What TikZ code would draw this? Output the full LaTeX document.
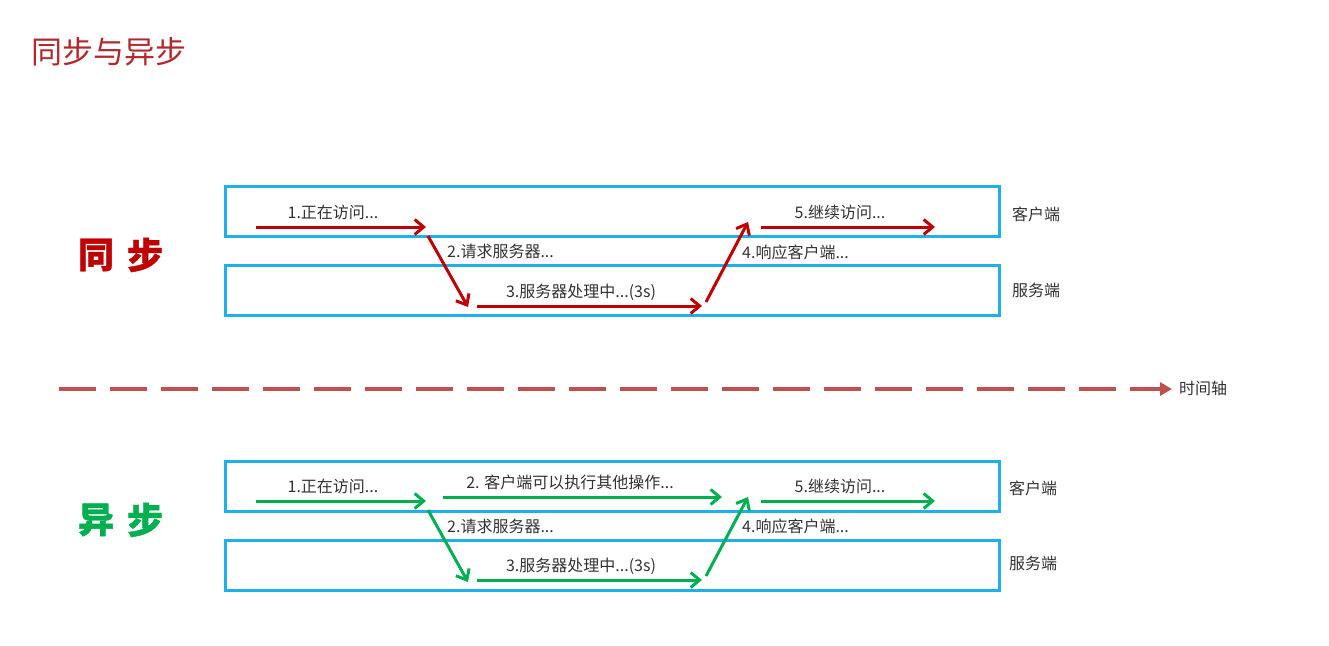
\documentclass[tikz,border=0pt]{standalone}
\usepackage{fontspec}
\setmainfont{Noto Sans CJK SC}
\newfontfamily\cjkbold{Noto Sans CJK SC Black}[FakeBold=1]
\usetikzlibrary{arrows.meta}
\definecolor{titlered}{RGB}{178,40,45}
\definecolor{boxblue}{RGB}{30,176,232}
\definecolor{arrred}{RGB}{192,0,0}
\definecolor{arrgreen}{RGB}{0,176,80}
\definecolor{axisred}{RGB}{192,80,77}
\definecolor{txt}{RGB}{50,50,50}
\tikzset{
  lane/.style={draw=boxblue, line width=3pt, minimum width=774pt, minimum height=50pt, inner sep=0pt, anchor=north west},
  lbl/.style={text=txt, font=\fontsize{16}{16}\selectfont, inner sep=0pt},
  flow/.style={line width=3pt, -{Straight Barb[length=9pt,width=15pt,line width=3pt]}},
  redflow/.style={flow, draw=arrred},
  greenflow/.style={flow, draw=arrgreen},
}
\begin{document}
\begin{tikzpicture}[x=1pt,y=-1pt]
\useasboundingbox (0,0) rectangle (1329,645);
% title
\node[anchor=west, text=titlered, font=\fontsize{31}{31}\selectfont, inner sep=0pt] (title) at (31,52) {同步与异步};
% big side labels
\node[text=arrred, font=\cjkbold\fontsize{36}{36}\selectfont, inner sep=0pt] (tong) at (96,255) {同};
\node[text=arrred, font=\cjkbold\fontsize{36}{36}\selectfont, inner sep=0pt] (bu1) at (145,255) {步};
\node[text=arrgreen, font=\cjkbold\fontsize{36}{36}\selectfont, inner sep=0pt] (yi) at (96,520) {异};
\node[text=arrgreen, font=\cjkbold\fontsize{36}{36}\selectfont, inner sep=0pt] (bu2) at (145,520) {步};

% ===== synchronous =====
\node[lane] (sc) at (224,185) {};
\node[lane] (ss) at (224,264) {};
\node[lbl, anchor=west] (scl) at (1012,214) {客户端};
\node[lbl, anchor=west] (ssl) at (1012,290) {服务端};
\coordinate (a1) at (256,227); \coordinate (a1e) at (426,227);
\coordinate (a2) at (428,236); \coordinate (a2e) at (468,307);
\coordinate (a3) at (477,306); \coordinate (a3e) at (702,306);
\coordinate (a4) at (706,302); \coordinate (a4e) at (748,222);
\coordinate (a5) at (761,227); \coordinate (a5e) at (935,227);
\draw[redflow] (a1) -- (a1e);
\draw[redflow] (a2) -- (a2e);
\draw[redflow] (a3) -- (a3e);
\draw[redflow] (a4) -- (a4e);
\draw[redflow] (a5) -- (a5e);
\node[lbl] (t1) at (333,212) {1.正在访问...};
\node[lbl, anchor=west] (t2) at (447,251) {2.请求服务器...};
\node[lbl] (t3) at (581,292) {3.服务器处理中...(3s)};
\node[lbl, anchor=west] (t4) at (742,252) {4.响应客户端...};
\node[lbl] (t5) at (840,212) {5.继续访问...};

% ===== time axis =====
\node[lbl, anchor=west] (axl) at (1179,388) {时间轴};
\coordinate (ax0) at (59,389);
\coordinate (ax1) at (1172,389);
\draw[draw=axisred, line width=4pt, dash pattern=on 37pt off 14pt, -{Triangle[length=12pt,width=13pt]}] (ax0) -- (ax1);

% ===== asynchronous =====
\node[lane] (ac) at (224,460) {};
\node[lane] (as) at (224,539) {};
\node[lbl, anchor=west] (acl) at (1009,488) {客户端};
\node[lbl, anchor=west] (asl) at (1009,563) {服务端};
\coordinate (b1) at (256,501); \coordinate (b1e) at (426,501);
\coordinate (b6) at (443,497); \coordinate (b6e) at (722,497);
\coordinate (b2) at (428,510); \coordinate (b2e) at (468,582);
\coordinate (b3) at (477,580); \coordinate (b3e) at (702,580);
\coordinate (b4) at (706,576); \coordinate (b4e) at (748,497);
\coordinate (b5) at (761,501); \coordinate (b5e) at (935,501);
\draw[greenflow] (b1) -- (b1e);
\draw[greenflow] (b6) -- (b6e);
\draw[greenflow] (b2) -- (b2e);
\draw[greenflow] (b3) -- (b3e);
\draw[greenflow] (b4) -- (b4e);
\draw[greenflow] (b5) -- (b5e);
\node[lbl] (u1) at (333,486) {1.正在访问...};
\node[lbl] (u6) at (570,482) {2. 客户端可以执行其他操作...};
\node[lbl, anchor=west] (u2) at (447,526) {2.请求服务器...};
\node[lbl] (u3) at (581,566) {3.服务器处理中...(3s)};
\node[lbl, anchor=west] (u4) at (742,526) {4.响应客户端...};
\node[lbl] (u5) at (840,486) {5.继续访问...};
\end{tikzpicture}
\end{document}
